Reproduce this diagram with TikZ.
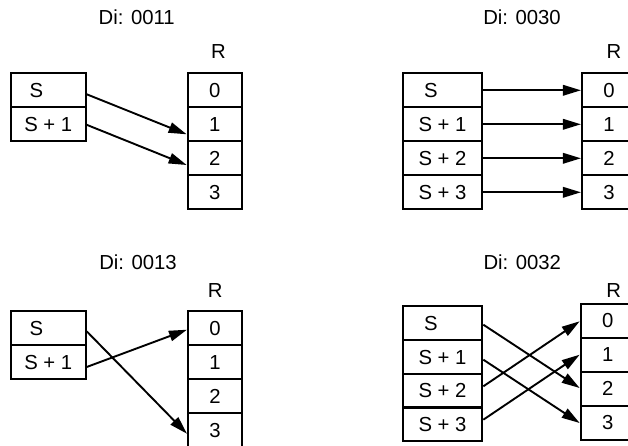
\documentclass[tikz,border=0pt]{standalone}
\usepackage{fontspec}
\setmainfont{Liberation Sans}
\usetikzlibrary{arrows.meta}
\begin{document}
\begin{tikzpicture}[x=1pt,y=-1pt,
  lbl/.style={font=\fontsize{20.3}{24}\selectfont, inner sep=0pt, text height=14.5pt, text depth=0pt},
  cell/.style={lbl, draw, line width=2.1pt, minimum height=34pt},
  srcA/.style={cell, minimum width=74.7pt},
  srcB/.style={cell, minimum width=79.6pt},
  res/.style={cell, minimum width=54pt},
  arr/.style={line width=1.9pt, -{Triangle[length=18pt,width=10.5pt]}}]
\useasboundingbox (0,0) rectangle (628,446);
\clip (0,0) rectangle (628,446);

% ---------- top left: Di 0011
\node[lbl] (At) at (136.7,17.5) {Di: 0011};
\node[lbl] (AR) at (218.5,51.7) {R};
\node[srcA] (Aa0) at (48.3,90.3) {S\rule{24pt}{0pt}};
\node[srcA] (Aa1) at (48.3,124.3) {S + 1};
\node[res] (Ar0) at (214.7,90.3) {0};
\node[res] (Ar1) at (214.7,124.3) {1};
\node[res] (Ar2) at (214.7,158.3) {2};
\node[res] (Ar3) at (214.7,192.3) {3};
\draw[arr] ([yshift=-4pt]Aa0.east) -- ([yshift=-10pt]Ar1.west);
\draw[arr] ([yshift=-0.5pt]Aa1.east) -- ([yshift=-6.7pt]Ar2.west);

% ---------- top right: Di 0030
\node[lbl] (Bt) at (522,17.5) {Di: 0030};
\node[lbl] (BR) at (614,51.7) {R};
\node[srcB] (Ba0) at (442.5,90.3) {S\rule{23pt}{0pt}};
\node[srcB] (Ba1) at (442.5,124.3) {S + 1};
\node[srcB] (Ba2) at (442.5,158.3) {S + 2};
\node[srcB] (Ba3) at (442.5,192.3) {S + 3};
\node[res] (Br0) at (609,90) {0};
\node[res] (Br1) at (609,124) {1};
\node[res] (Br2) at (609,158) {2};
\node[res] (Br3) at (609,192) {3};
\foreach \i in {0,1,2,3}
  \draw[arr] (Ba\i.east) -- (Ba\i.east -| Br\i.west);

% ---------- bottom left: Di 0013
\node[lbl] (Ct) at (138,262.2) {Di: 0013};
\node[lbl] (CR) at (215.3,290) {R};
\node[srcA] (Ca0) at (48.3,328.3) {S\rule{24pt}{0pt}};
\node[srcA] (Ca1) at (48.3,362.3) {S + 1};
\node[res] (Cr0) at (215,328.3) {0};
\node[res] (Cr1) at (215,362.3) {1};
\node[res] (Cr2) at (215,396.3) {2};
\node[res] (Cr3) at (215,430.3) {3};
\draw[arr] ([yshift=-3pt]Ca0.east) -- ([yshift=-3.4pt]Cr3.west);
\draw[arr] ([yshift=-4.7pt]Ca1.east) -- ([yshift=-1.4pt]Cr0.west);

% ---------- bottom right: Di 0032
\node[lbl] (Dt) at (522.3,262.2) {Di: 0032};
\node[lbl] (DR) at (613.7,290) {R};
\node[srcB] (Da0) at (442.5,323.2) {S\rule{23pt}{0pt}};
\node[srcB] (Da1) at (442.5,356.9) {S + 1};
\node[srcB] (Da2) at (442.5,390.7) {S + 2};
\node[srcB] (Da3) at (442.5,424.4) {S + 3};
\node[res] (Dr0) at (607.7,320.7) {0};
\node[res] (Dr1) at (607.7,354.7) {1};
\node[res] (Dr2) at (607.7,388.7) {2};
\node[res] (Dr3) at (607.7,422.7) {3};
\draw[arr] ([yshift=-1.5pt]Da0.east) -- ([yshift=0.7pt]Dr2.west);
\draw[arr] ([yshift=-2.8pt]Da1.east) -- ([yshift=-0.3pt]Dr3.west);
\draw[arr] ([yshift=4.4pt]Da2.east) -- ([yshift=-0.6pt]Dr0.west);
\draw[arr] ([yshift=4.7pt]Da3.east) -- (Dr1.west);
\end{tikzpicture}
\end{document}
